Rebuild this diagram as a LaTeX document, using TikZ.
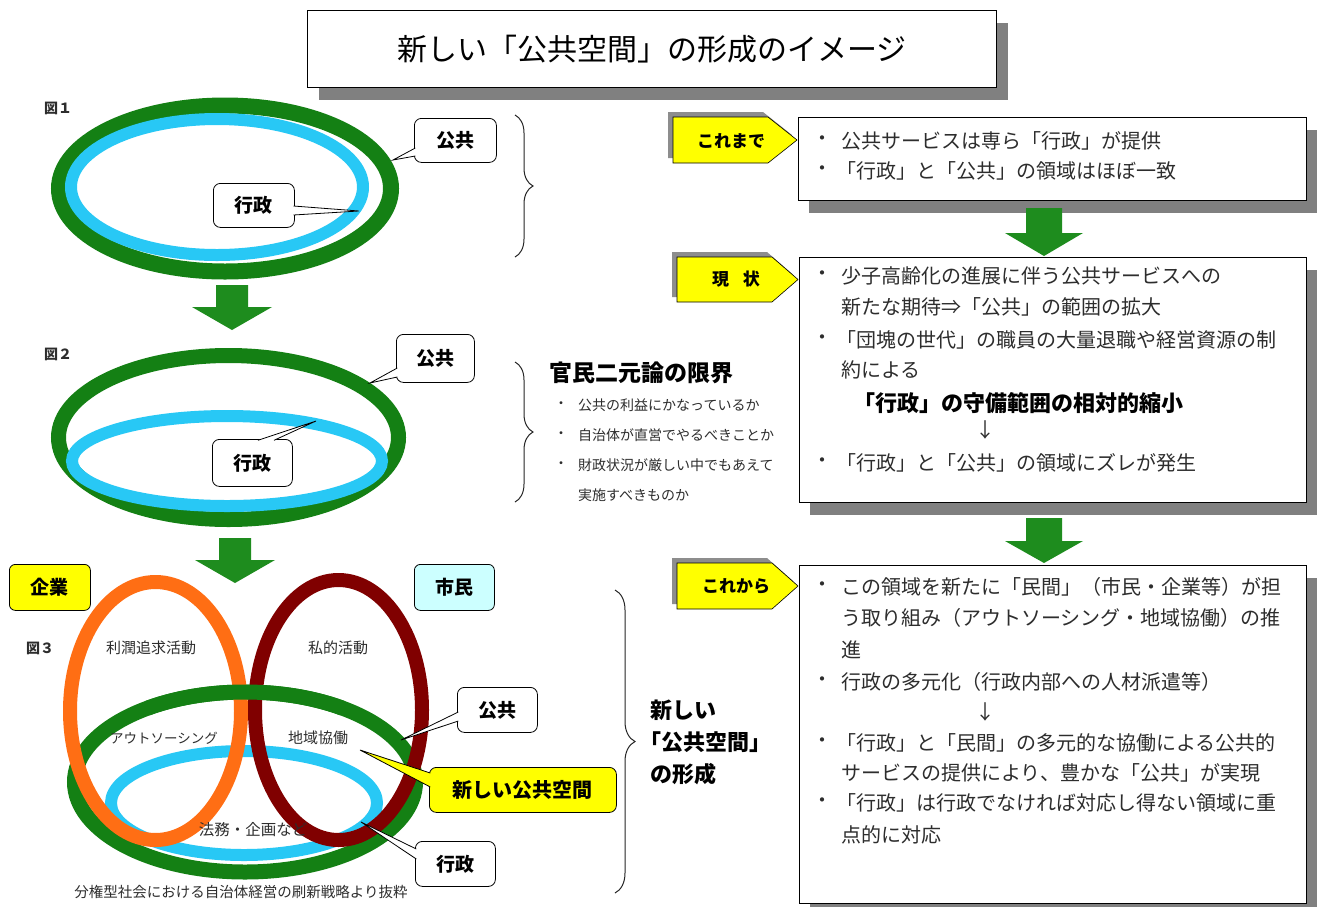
\documentclass[tikz,border=0pt]{standalone}
\usepackage{fontspec}
\setmainfont{Noto Sans CJK JP}
\usetikzlibrary{shadows,decorations.pathreplacing,calc}
\definecolor{fgreen}{RGB}{20,128,20}
\definecolor{agreen}{RGB}{30,140,30}
\definecolor{fcyan}{RGB}{40,200,245}
\definecolor{forange}{RGB}{255,110,20}
\definecolor{fdred}{RGB}{128,0,0}
\definecolor{tagyellow}{RGB}{255,255,0}
\definecolor{lcyan}{RGB}{204,255,255}
\definecolor{shgray}{RGB}{128,128,128}
\definecolor{txt}{RGB}{45,45,45}
\tikzset{
  callbox/.style={draw, line width=0.8pt, rounded corners=7pt, fill=white, inner sep=0pt,
    anchor=north west, font=\fontsize{19}{22}\selectfont\bfseries},
  calltail/.style={draw, line width=0.8pt, fill=white, rounded corners=0pt},
  rbox/.style={draw, line width=1pt, fill=white, anchor=north west, inner sep=0pt,
    drop shadow={shadow xshift=10pt, shadow yshift=-12pt, fill=shgray, opacity=1}},
  tagshape/.style={draw, line width=0.6pt, fill=tagyellow},
  tagshadow/.style={fill=shgray!90},
  tagtext/.style={font=\fontsize{17}{20}\selectfont\bfseries, inner sep=0pt},
  bt/.style={anchor=west, inner sep=0pt, text=txt, font=\fontsize{20}{24}\selectfont},
  bul/.style={inner sep=0pt, text=txt, font=\fontsize{20}{24}\selectfont},
  lt/.style={anchor=west, inner sep=0pt, text=txt, font=\fontsize{14}{17}\selectfont},
  lbul/.style={inner sep=0pt, text=txt, font=\fontsize{14}{17}\selectfont},
  flab/.style={inner sep=0pt, text=txt, font=\fontsize{15}{18}\selectfont},
  bigarrow/.style={fill=agreen},
  brc/.style={decorate, decoration={brace, amplitude=#1}, line width=1pt, black!85},
}
\begin{document}
\begin{tikzpicture}[x=1pt,y=-1pt]
\useasboundingbox (0,0) rectangle (1323,906);
\fill[white] (0,0) rectangle (1323,906);

% ---------- title ----------
\node[draw, line width=1pt, fill=white, anchor=north west, inner sep=0pt,
  minimum width=689pt, minimum height=77pt,
  drop shadow={shadow xshift=11pt, shadow yshift=-12pt, fill=shgray, opacity=1},
  font=\fontsize{30}{36}\selectfont] (title) at (307,10) {新しい「公共空間」の形成のイメージ};

% ---------- figure 1 ----------
\node[flab, font=\fontsize{14}{17}\selectfont\bfseries] (f1) at (58,108) {図１};
\draw[line width=16pt, fgreen] (225,188.5) ellipse [x radius=166, y radius=83];
\draw[line width=12pt, fcyan] (217,187) ellipse [x radius=146, y radius=68];
\node[callbox, minimum width=82pt, minimum height=44pt] (c1k) at (414,118) {公共};
\coordinate (t1k) at (393,160);
\path[calltail] ($(c1k.north west)+(1.3,30)$) -- (t1k) -- ($(c1k.north west)+(1.3,38)$);
\node[callbox, minimum width=81pt, minimum height=44pt] (c1g) at (213,183) {行政};
\coordinate (t1g) at (359,211);
\path[calltail] ($(c1g.north east)+(-1.3,23)$) -- (t1g) -- ($(c1g.north east)+(-1.3,32)$);
\draw[brc=18pt] (515,115) -- (515,257);

% arrow 1
\fill[bigarrow] (216,285) -- (248,285) -- (248,307) -- (272,307) -- (232,330) -- (192,307) -- (216,307) -- cycle;

% ---------- figure 2 ----------
\node[flab, font=\fontsize{14}{17}\selectfont\bfseries] (f2) at (58,354) {図２};
\draw[line width=15pt, fgreen] (228.5,437.5) ellipse [x radius=170, y radius=82];
\draw[line width=12pt, fcyan] (227,461) ellipse [x radius=155, y radius=45];
\node[callbox, minimum width=78pt, minimum height=48pt] (c2k) at (396,334) {公共};
\coordinate (t2k) at (370,383);
\path[calltail] ($(c2k.north west)+(1.3,34)$) -- (t2k) -- ($(c2k.north west)+(1.3,43)$);
\node[callbox, minimum width=80pt, minimum height=47pt] (c2g) at (212,439) {行政};
\coordinate (t2g) at (316,421);
\path[calltail] ($(c2g.north west)+(46,1.3)$) -- (t2g) -- ($(c2g.north west)+(62,1.3)$);
\draw[brc=18pt] (515,362) -- (515,502);
\node[anchor=west, inner sep=0pt, font=\fontsize{23}{27}\selectfont\bfseries] (kanmin) at (549,373) {官民二元論の限界};
\node[lbul] (l1b) at (561,405) {・};
\node[lt] (l1) at (578,405) {公共の利益にかなっているか};
\node[lbul] (l2b) at (561,435) {・};
\node[lt] (l2) at (578,435) {自治体が直営でやるべきことか};
\node[lbul] (l3b) at (561,465) {・};
\node[lt] (l3) at (578,465) {財政状況が厳しい中でもあえて};
\node[lt] (l4) at (578,495) {実施すべきものか};

% arrow 2
\fill[bigarrow] (219,538) -- (251,538) -- (251,560) -- (275,560) -- (235,583) -- (195,560) -- (219,560) -- cycle;

% ---------- figure 3 ----------
\node[draw, line width=0.8pt, rounded corners=6pt, fill=tagyellow, anchor=north west, inner sep=0pt,
  minimum width=81pt, minimum height=46pt, font=\fontsize{19}{22}\selectfont\bfseries] (kigyo) at (9,564) {企業};
\node[draw, line width=0.8pt, rounded corners=6pt, fill=lcyan, anchor=north west, inner sep=0pt,
  minimum width=80pt, minimum height=46pt, font=\fontsize{19}{22}\selectfont\bfseries] (shimin) at (414,564) {市民};
\node[flab, font=\fontsize{14}{17}\selectfont\bfseries] (f3) at (40,648) {図３};
\draw[line width=12pt, fcyan] (244,803) ellipse [x radius=133, y radius=52];
\draw[line width=15pt, fgreen] (245,782) ellipse [x radius=170.5, y radius=90];
\draw[line width=14pt, forange] (155.5,711) ellipse [x radius=85.5, y radius=129];
\draw[line width=14pt, fdred] (338.5,710) ellipse [x radius=83.5, y radius=130];
\draw[line width=15pt, fgreen] (245,782) ++(235:170.5 and 90) arc[start angle=235, end angle=305, x radius=170.5, y radius=90];
\node[flab] (rj) at (151,648) {利潤追求活動};
\node[flab] (st) at (338,648) {私的活動};
\node[flab, font=\fontsize{13.5}{16}\selectfont] (os) at (164,738) {アウトソーシング};
\node[flab] (cy) at (318,738) {地域協働};
\node[flab, font=\fontsize{15.5}{18}\selectfont] (hm) at (253,830) {法務・企画など};
\node[callbox, minimum width=80pt, minimum height=45pt] (c3k) at (457,687) {公共};
\coordinate (t3k) at (401,740);
\path[calltail] ($(c3k.north west)+(1.3,25)$) -- (t3k) -- ($(c3k.north west)+(1.3,34)$);
\node[callbox, fill=tagyellow, minimum width=187pt, minimum height=45pt, font=\fontsize{20}{24}\selectfont\bfseries] (c3n) at (429,767) {新しい公共空間};
\coordinate (t3n) at (360,750);
\path[calltail, fill=tagyellow] ($(c3n.north west)+(1.3,6)$) -- (t3n) -- ($(c3n.north west)+(1.3,20)$);
\node[callbox, minimum width=80pt, minimum height=45pt] (c3g) at (415,841) {行政};
\coordinate (t3g) at (361,822);
\path[calltail] ($(c3g.north west)+(1.3,8)$) -- (t3g) -- ($(c3g.north west)+(1.3,18)$);
\node[inner sep=0pt, text=txt, font=\fontsize{14.5}{17}\selectfont] (cap) at (241,892) {分権型社会における自治体経営の刷新戦略より抜粋};
\draw[brc=20pt] (615,590) -- (615,893);
\node[anchor=west, inner sep=0pt, font=\fontsize{22}{26}\selectfont\bfseries] (n1) at (650,710) {新しい};
\node[anchor=west, inner sep=0pt, font=\fontsize{22}{26}\selectfont\bfseries] (n2) at (639,742) {「公共空間」};
\node[anchor=west, inner sep=0pt, font=\fontsize{22}{26}\selectfont\bfseries] (n3) at (650,774) {の形成};

% ---------- right column ----------
\node[rbox, minimum width=508pt, minimum height=83pt] (b1) at (798,117) {};
\node[rbox, minimum width=507pt, minimum height=245pt] (b2) at (799,257) {};
\node[rbox, minimum width=507pt, minimum height=338pt] (b3) at (799,565) {};

% tags
\fill[tagshadow] (668,112) -- (763,112) -- (792,135) -- (763,158) -- (668,158) -- cycle;
\path[tagshape] (673,117) -- (768,117) -- (797,140) -- (768,163) -- (673,163) -- cycle;
\node[tagtext] (tg1) at (731,141) {これまで};
\fill[tagshadow] (672,252) -- (767,252) -- (793,274.5) -- (767,297) -- (672,297) -- cycle;
\path[tagshape] (677,257) -- (772,257) -- (798,279.5) -- (772,302) -- (677,302) -- cycle;
\node[tagtext] (tg2) at (736,279) {現\hspace{0.8em}状};
\fill[tagshadow] (672,558) -- (767,558) -- (793,581) -- (767,604) -- (672,604) -- cycle;
\path[tagshape] (677,563) -- (772,563) -- (798,586) -- (772,609) -- (677,609) -- cycle;
\node[tagtext] (tg3) at (736,586) {これから};

% arrows between boxes
\fill[bigarrow] (1026,208) -- (1062,208) -- (1062,233) -- (1083,233) -- (1044,256) -- (1005,233) -- (1026,233) -- cycle;
\fill[bigarrow] (1026,518) -- (1062,518) -- (1062,541) -- (1083,541) -- (1044,563) -- (1005,541) -- (1026,541) -- cycle;

% box 1 text
\node[bul] (b1u1) at (822,141) {・};
\node[bt] (b1l1) at (841,141) {公共サービスは専ら「行政」が提供};
\node[bul] (b1u2) at (822,171) {・};
\node[bt] (b1l2) at (836,171) {「行政」と「公共」の領域はほぼ一致};

% box 2 text
\node[bul] (b2u1) at (822,276) {・};
\node[bt] (b2l1) at (841,276) {少子高齢化の進展に伴う公共サービスへの};
\node[bt] (b2l2) at (841,307) {新たな期待⇒「公共」の範囲の拡大};
\node[bul] (b2u3) at (822,340) {・};
\node[bt] (b2l3) at (836,340) {「団塊の世代」の職員の大量退職や経営資源の制};
\node[bt] (b2l4) at (841,370) {約による};
\node[anchor=west, inner sep=0pt, font=\fontsize{22}{26}\selectfont\bfseries] (b2l5) at (853,403) {「行政」の守備範囲の相対的縮小};
\node[bul] (b2l6) at (985,430) {↓};
\node[bul] (b2u7) at (822,463) {・};
\node[bt] (b2l7) at (836,463) {「行政」と「公共」の領域にズレが発生};

% box 3 text
\node[bul] (b3u1) at (822,587) {・};
\node[bt] (b3l1) at (841,587) {この領域を新たに「民間」（市民・企業等）が担};
\node[bt] (b3l2) at (841,618) {う取り組み（アウトソーシング・地域協働）の推};
\node[bt] (b3l3) at (841,650) {進};
\node[bul] (b3u4) at (822,682) {・};
\node[bt] (b3l4) at (841,682) {行政の多元化（行政内部への人材派遣等）};
\node[bul] (b3l5) at (985,712) {↓};
\node[bul] (b3u6) at (822,743) {・};
\node[bt] (b3l6) at (836,743) {「行政」と「民間」の多元的な協働による公共的};
\node[bt] (b3l7) at (841,773) {サービスの提供により、豊かな「公共」が実現};
\node[bul] (b3u8) at (822,803) {・};
\node[bt] (b3l8) at (836,803) {「行政」は行政でなければ対応し得ない領域に重};
\node[bt] (b3l9) at (841,835) {点的に対応};
\end{tikzpicture}
\end{document}
